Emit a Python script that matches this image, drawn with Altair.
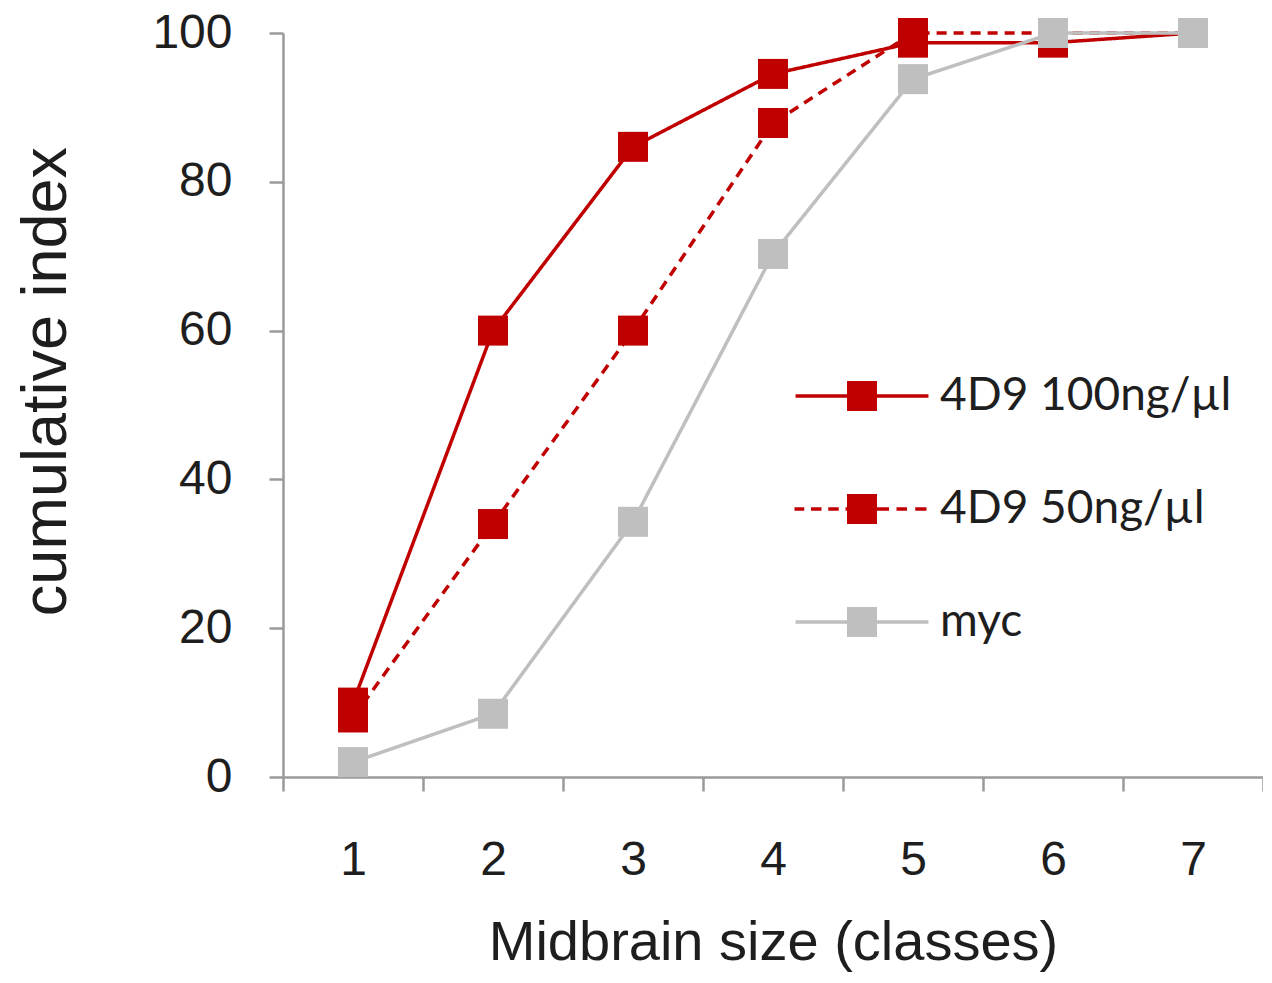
import altair as alt
import pandas as pd

classes = ["1", "2", "3", "4", "5", "6", "7"]
series_names = ["4D9 100ng/µl", "4D9 50ng/µl", "myc"]
s100 = [10, 60, 84.7, 94.5, 98.7, 98.7, 100]
s50 = [8, 34, 60, 87.9, 100, 100, 100]
myc = [2, 8.5, 34.3, 70.3, 93.8, 100, 100]
y_ticks = [0, 20, 40, 60, 80, 100]

rows = []
for name, vals in zip(series_names, [s100, s50, myc]):
    for c, v in zip(classes, vals):
        rows.append({"cls": c, "value": v, "series": name})
df = pd.DataFrame(rows)

RED = "#c00000"
GRAY = "#bfbfbf"
AX = "#9a9a9a"
TXT = "#1e1e1e"

def cscale():
    return alt.Scale(domain=series_names, range=[RED, RED, GRAY])

def dscale():
    return alt.Scale(domain=series_names, range=[[1, 0], [10, 7], [1, 0]])

# legend glyphs (unit box: 1 unit = 15 px): line segments drawn as thin filled bars + square
def bar(a, b, t=0.117):
    return f"M {a} {-t} L {b} {-t} L {b} {t} L {a} {t} Z "

SQUARE = "M -1 -1 L 1 -1 L 1 1 L -1 1 Z"
SOLID_GLYPH = bar(-4.43, -0.9) + bar(0.9, 4.43) + SQUARE
DASH_GLYPH = (
    bar(-4.5, -3.85) + bar(-3.4, -2.7) + bar(-2.25, -1.55) + bar(-1.1, -0.9)
    + bar(0.9, 1.8) + bar(2.3, 3.0) + bar(3.55, 4.3) + SQUARE
)

x_enc = alt.X(
    "cls:O",
    sort=classes,
    scale=alt.Scale(type="band", paddingInner=0, paddingOuter=0),
    axis=alt.Axis(
        title="Midbrain size (classes)",
        labelAngle=0,
        tickBand="extent",
        tickSize=14,
        tickWidth=2.5,
        tickColor=AX,
        domainColor=AX,
        domainWidth=2.5,
        labelFont="Liberation Sans",
        labelFontSize=48,
        labelColor=TXT,
        labelPadding=45,
        titleFont="Liberation Sans",
        titleFontSize=56,
        titleFontWeight="normal",
        titleColor=TXT,
        titleBaseline="alphabetic",
        titleY=182,
        grid=False,
    ),
)
y_enc = alt.Y(
    "value:Q",
    scale=alt.Scale(domain=[0, 100], nice=False, zero=True),
    axis=alt.Axis(
        title="cumulative index",
        values=y_ticks,
        tickSize=14,
        tickWidth=2.5,
        tickColor=AX,
        domainColor=AX,
        domainWidth=2.5,
        labelFont="Liberation Sans",
        labelFontSize=48,
        labelColor=TXT,
        labelPadding=37,
        titleFont="Liberation Sans",
        titleFontSize=63,
        titleFontWeight="normal",
        titleColor=TXT,
        titleBaseline="alphabetic",
        titleX=-218,
        titleY=348,
        grid=False,
    ),
)

leg = alt.Legend(
    title=None,
    orient="none",
    legendX=556,
    legendY=340,
    padding=0,
    symbolSize=900,
    symbolStrokeWidth=0,
    symbolOpacity=1,
    labelFont="Lato",
    labelFontSize=46,
    labelColor=TXT,
    labelOffset=55,
    rowPadding=67,
    labelLimit=600,
)

lines = alt.Chart(df).mark_line(strokeWidth=3.5).encode(
    x=x_enc,
    y=y_enc,
    color=alt.Color("series:N", scale=cscale(), legend=None),
    strokeDash=alt.StrokeDash("series:N", scale=dscale(), legend=None),
)

points = alt.Chart(df).mark_point(shape="square", filled=True, size=900, opacity=1, strokeWidth=0).encode(
    x=alt.X("cls:O", sort=classes),
    y=alt.Y("value:Q"),
    color=alt.Color("series:N", scale=cscale(), legend=None),
)

legend_layer = alt.Chart(df).mark_point(filled=True, opacity=0, strokeWidth=0).encode(
    x=alt.X("cls:O", sort=classes),
    y=alt.Y("value:Q"),
    fill=alt.Fill("series:N", scale=cscale(), legend=leg),
    shape=alt.Shape(
        "series:N",
        scale=alt.Scale(domain=series_names, range=[SOLID_GLYPH, DASH_GLYPH, SOLID_GLYPH]),
        legend=leg,
    ),
)

chart = (
    alt.layer(lines, points, legend_layer)
    .resolve_legend(color="independent", strokeDash="independent", fill="independent", shape="independent")
    .properties(
        width=980,
        height=744,
        background="white",
        autosize=alt.AutoSizeParams(type="none"),
        padding={"left": 275, "top": 25, "right": 0, "bottom": 195},
    )
    .configure_view(stroke=None)
)

chart.save("out.html", embed_options={"renderer": "svg", "actions": False})
